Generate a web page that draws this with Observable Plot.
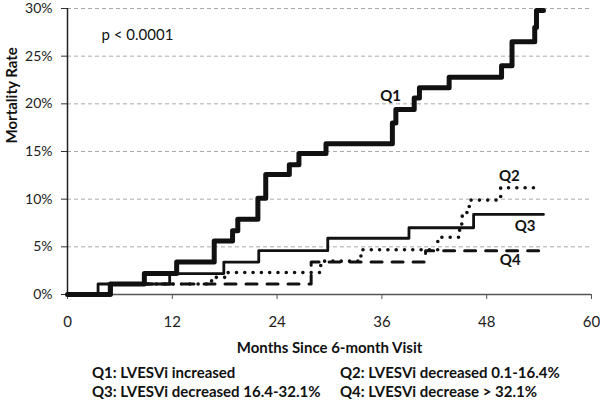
<!DOCTYPE html>
<html><head><meta charset="utf-8">
<script src="https://cdn.jsdelivr.net/npm/d3@7"></script>
<script src="https://cdn.jsdelivr.net/npm/@observablehq/plot@0.6"></script>
<style>
body{margin:0;background:#fff;font-family:Lato,sans-serif;}
#chart svg{display:block;}
#legend{display:grid;grid-template-columns:248px auto;padding-left:92px;padding-top:1px;font-weight:bold;font-size:15px;line-height:19px;color:#111;white-space:nowrap;}
</style></head><body><div id="chart"></div><div id="legend"></div>
<script>
// Axis ticks
const tickMonths = [0, 12, 24, 36, 48, 60];
const tickRates = [0, 5, 10, 15, 20, 25, 30];

// Q1: LVESVi increased
const q1Months = [0, 4.9, 8.8, 12.5, 16.8, 18.9, 19.5, 21.8, 22.7, 25.4, 26.5, 29.6, 37.2, 37.6, 39.7, 40.3, 43.7, 49.7, 50.9, 53.5, 53.7, 54.5];
const q1Rates  = [0, 1.1, 2.2, 3.4, 5.6, 6.7, 7.9, 10.1, 12.6, 13.6, 14.8, 15.8, 18.0, 19.4, 20.6, 21.7, 22.8, 24.0, 26.5, 28.0, 29.8, 29.8];

// Q2: LVESVi decreased 0.1-16.4%
const q2Months = [0, 5.0, 16.5, 18.4, 29.0, 33.6, 42.4, 44.9, 45.2, 46.0, 49.6, 53.8];
const q2Rates  = [0, 1.1, 1.8, 2.3, 3.5, 4.7, 6.0, 7.4, 8.6, 9.9, 11.2, 11.2];

// Q3: LVESVi decreased 16.4-32.1%
const q3Months = [0, 3.5, 11.7, 17.9, 21.9, 29.8, 39.1, 46.5, 54.5];
const q3Rates  = [0, 1.1, 2.2, 3.4, 4.6, 5.9, 7.0, 8.4, 8.4];

// Q4: LVESVi decrease > 32.1%
const q4Months = [0, 5.0, 27.9, 41.0, 54.5];
const q4Rates  = [0, 1.1, 3.4, 4.6, 4.6];

const seriesNames = ["Q1", "Q2", "Q3", "Q4"];
const legendLabels = [
  "Q1: LVESVi increased",
  "Q2: LVESVi decreased 0.1-16.4%",
  "Q3: LVESVi decreased 16.4-32.1%",
  "Q4: LVESVi decrease > 32.1%"
];
const pValueText = "p < 0.0001";
const xTitle = "Months Since 6-month Visit";
const yTitle = "Mortality Rate";

// annotation anchor points (data coordinates)
const labelMonths = [37.0, 50.6, 52.4, 50.7];
const labelRates  = [20.8, 12.4, 7.2, 3.65];

const toRows = (months, rates) => months.map((m, i) => ({month: m, rate: rates[i]}));
const q1 = toRows(q1Months, q1Rates);
const q2 = toRows(q2Months, q2Rates);
const q3 = toRows(q3Months, q3Rates);
const q4 = toRows(q4Months, q4Rates);
const labels = seriesNames.map((s, i) => ({name: s, month: labelMonths[i], rate: labelRates[i]}));

const lineOpts = {x: "month", y: "rate", curve: "step-after", stroke: "#111"};

const chart = Plot.plot({
  width: 600,
  height: 362,
  marginLeft: 67,
  marginRight: 9,
  marginTop: 8,
  marginBottom: 68,
  style: {fontFamily: "Lato, sans-serif", fontSize: "15px", color: "#222", background: "#fff"},
  x: {domain: [0, 60]},
  y: {domain: [0, 30]},
  marks: [
    Plot.gridY(tickRates.filter(d => d > 0), {stroke: "#aaa", strokeOpacity: 1, strokeDasharray: "4,3"}),
    Plot.axisX({ticks: tickMonths, tickSize: 5, tickPadding: 17, label: null, stroke: "#555"}),
    Plot.axisY({ticks: tickRates, tickSize: 6, tickPadding: 9, tickFormat: d => d + "%", label: null, stroke: "#333", fontSize: 14}),
    Plot.ruleY([0], {stroke: "#555", strokeWidth: 1.5}),
    Plot.ruleX([0], {stroke: "#222", strokeWidth: 1.5}),
    Plot.line(q4, {...lineOpts, strokeWidth: 3, strokeDasharray: "11,10"}),
    Plot.line(q2, {...lineOpts, strokeWidth: 3.6, strokeDasharray: "0,8.3", strokeLinecap: "round"}),
    Plot.line(q3, {...lineOpts, strokeWidth: 2.8}),
    Plot.line(q1, {...lineOpts, strokeWidth: 5}),
    Plot.text(labels, {x: "month", y: "rate", text: "name", fontWeight: "bold", fontSize: 15, fill: "#111"}),
    Plot.text([pValueText], {x: () => 3.9, y: () => 27.2, textAnchor: "start", fontSize: 15, fill: "#111"}),
    Plot.text([xTitle], {frameAnchor: "bottom", dy: 58, fontWeight: "bold", fontSize: 15, fill: "#111"}),
    Plot.text([yTitle], {frameAnchor: "left", rotate: -90, dx: -55, dy: -8, fontWeight: "bold", fontSize: 15, fill: "#111"})
  ]
});
document.getElementById("chart").append(chart);

const legend = document.getElementById("legend");
for (const label of legendLabels) {
  const d = document.createElement("div");
  d.textContent = label;
  legend.append(d);
}
</script>
</body></html>
